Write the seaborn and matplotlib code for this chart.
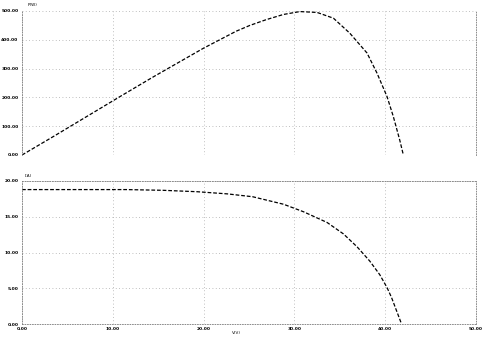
import matplotlib
matplotlib.use("Agg")
import matplotlib.pyplot as plt
import seaborn as sns
import pandas as pd

# ---- data ----
power_v = [0.0, 3.5, 10.8, 14.5, 20.0, 23.6, 25.1, 26.9, 28.8, 30.6, 32.5, 34.3, 36.1, 38.0, 39.1, 40.2, 40.9, 41.6, 42.0]
power_w = [0, 65, 203, 272, 371, 430, 450, 470, 488, 498, 495, 475, 423, 354, 284, 203, 133, 52, 0]

current_v = [0.0, 3.5, 8.9, 11.5, 15.5, 19.3, 22.6, 25.4, 28.8, 31.0, 33.6, 35.4, 36.9, 38.3, 39.4, 40.2, 40.7, 41.8]
current_a = [18.8, 18.8, 18.8, 18.8, 18.7, 18.5, 18.2, 17.8, 16.75, 15.7, 14.2, 12.6, 10.8, 8.8, 6.9, 5.1, 3.7, 0.0]

x_ticks = [0, 10, 20, 30, 40, 50]
p_ticks = [0, 100, 200, 300, 400, 500]
i_ticks = [0, 5, 10, 15, 20]

df_p = pd.DataFrame({"V": power_v, "P": power_w})
df_i = pd.DataFrame({"V": current_v, "I": current_a})

sns.set_style("white")
plt.rcParams["font.family"] = ["DejaVu Sans"]

W, H = 485, 337
fig = plt.figure(figsize=(W / 100, H / 100), dpi=100)

def box(x0, y0, x1, y1):
    return [x0 / W, 1 - y1 / H, (x1 - x0) / W, (y1 - y0) / H]

ax1 = fig.add_axes(box(22, 11, 476, 155))
ax2 = fig.add_axes(box(22, 181, 476, 324))

grid_kw = dict(color="#aaaaaa", linestyle=(0, (1, 3)), linewidth=0.6)
tick_font = dict(fontsize=3.2, fontweight="bold", color="black")

for ax, df, ycol, yt, ylim in [
    (ax1, df_p, "P", p_ticks, (0, 500)),
    (ax2, df_i, "I", i_ticks, (0, 20)),
]:
    sns.lineplot(data=df, x="V", y=ycol, ax=ax, color="black",
                 linewidth=0.9, sort=False)
    ax.lines[0].set_dashes((3, 1.5))
    ax.set_xlim(0, 50)
    ax.set_ylim(*ylim)
    ax.set_xticks(x_ticks)
    ax.set_yticks(yt)
    ax.set_yticklabels([f"{v:.2f}" for v in yt], **tick_font)
    ax.grid(True, **grid_kw)
    ax.tick_params(length=0, pad=2.5)
    ax.set_xlabel("")
    ax.set_ylabel("")
    for s in ax.spines.values():
        s.set_linestyle((0, (1, 2)))
        s.set_linewidth(0.6)
        s.set_color("#777777")
    ax.set_facecolor("white")

ax1.set_xticklabels([])
ax1.spines["bottom"].set_visible(False)
ax1.spines["top"].set_visible(False)
ax2.set_xticklabels([f"{v:.2f}" for v in x_ticks], **tick_font)

fig.text(28 / W, 1 - 5 / H, "P(W)", fontsize=3, color="black", ha="left", va="center")
fig.text(25 / W, 1 - 176 / H, "I(A)", fontsize=3, color="black", ha="left", va="center")
fig.text(236 / W, 1 - 333 / H, "V(V)", fontsize=3, color="black", ha="center", va="center")

fig.savefig("out.png", dpi=100, facecolor="white")
